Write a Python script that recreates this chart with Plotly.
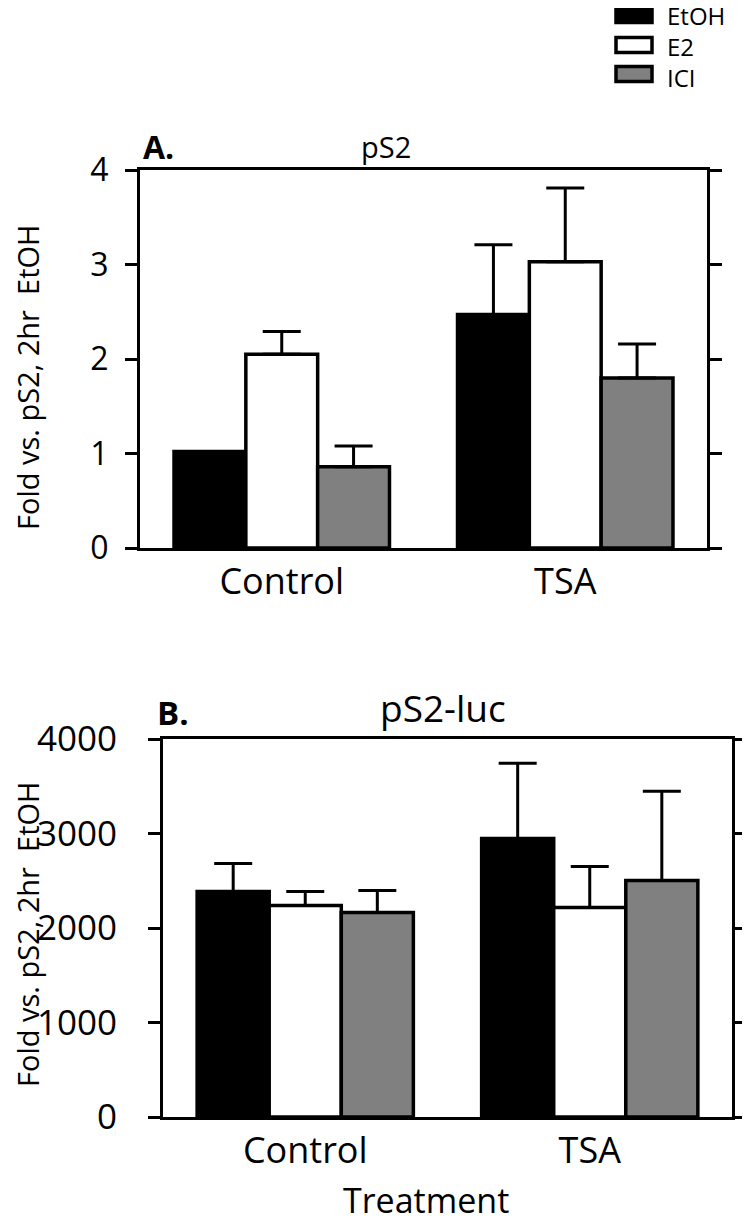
import plotly.graph_objects as go

# ---- data ----
categories = ["Control", "TSA"]
series_names = ["EtOH", "E2", "ICI"]
series_colors = ["#000000", "#ffffff", "#808080"]

# Panel A: pS2 (fold)
a_values = {"EtOH": [1.02, 2.47], "E2": [2.05, 3.03], "ICI": [0.86, 1.80]}
a_errors = {"EtOH": [0.0, 0.74], "E2": [0.24, 0.78], "ICI": [0.22, 0.36]}
a_ticks = [0, 1, 2, 3, 4]

# Panel B: pS2-luc
b_values = {"EtOH": [2386, 2948], "E2": [2238, 2216], "ICI": [2163, 2503]}
b_errors = {"EtOH": [297, 795], "E2": [148, 435], "ICI": [234, 944]}
b_ticks = [0, 1000, 2000, 3000, 4000]

# page body has an 8px margin: the figure starts 8px in from the window edge
OFF = 8
W, H = 750 - OFF, 1225 - OFF
FONT = "Open Sans"


def px(x):
    return (x - OFF) / W


def py(y):
    return 1 - (y - OFF) / H


fig = go.Figure()

for name, color in zip(series_names, series_colors):
    fig.add_trace(go.Bar(
        x=categories, y=a_values[name], name=name,
        marker=dict(color=color, line=dict(color="black", width=3.5)),
        error_y=dict(type="data", array=a_errors[name], arrayminus=[0, 0],
                     symmetric=False, color="black", thickness=3, width=19),
        xaxis="x", yaxis="y", showlegend=False,
    ))
    fig.add_trace(go.Bar(
        x=categories, y=b_values[name], name=name,
        marker=dict(color=color, line=dict(color="black", width=3.5)),
        error_y=dict(type="data", array=b_errors[name], arrayminus=[0, 0],
                     symmetric=False, color="black", thickness=3, width=19),
        xaxis="x2", yaxis="y2", showlegend=False,
    ))

common_x = dict(type="category", showline=True, mirror=True, linecolor="black",
                linewidth=3, ticks="", showgrid=False, zeroline=False,
                range=[-0.5, 1.5], automargin=False)
common_y = dict(showline=True, mirror="ticks", linecolor="black", linewidth=3,
                ticks="outside", ticklen=12, tickwidth=3, tickcolor="black",
                showgrid=False, zeroline=False, automargin=False)

fig.update_layout(
    template="none",
    width=W, height=H,
    margin=dict(l=0, r=0, t=0, b=0, autoexpand=False),
    paper_bgcolor="white", plot_bgcolor="white",
    barmode="group", bargap=0.24, bargroupgap=0,
    font=dict(family=FONT, color="black"),
    showlegend=False,
    xaxis=dict(common_x, domain=[px(140), px(707)], anchor="y",
               tickfont=dict(size=36), ticklabelstandoff=0),
    yaxis=dict(common_y, domain=[py(548), py(170)], anchor="x",
               range=[0, 4], tickvals=a_ticks,
               tickfont=dict(size=32), ticklabelstandoff=10),
    xaxis2=dict(common_x, domain=[px(163), px(732)], anchor="y2",
                tickfont=dict(size=36), ticklabelstandoff=0),
    yaxis2=dict(common_y, domain=[py(1117), py(739)], anchor="x2",
                range=[0, 4000], tickvals=b_ticks,
                tickfont=dict(size=35), ticklabelstandoff=24),
)

ann = []


def text(x, y, s, size, xanchor="center", angle=0, align="center"):
    ann.append(dict(x=px(x), y=py(y), xref="paper", yref="paper", text=s,
                    showarrow=False, xanchor=xanchor, yanchor="middle",
                    textangle=angle, align=align,
                    font=dict(size=size, family=FONT, color="black")))


text(141, 146, "<b>A.</b>", 32, xanchor="left")
text(386, 146, "pS2", 29)
text(155, 712, "<b>B.</b>", 33, xanchor="left")
text(443, 707, "pS2-luc", 37)
text(27, 378, "Fold vs. pS2, 2hr  EtOH", 29, angle=-90)
text(27, 935, "Fold vs. pS2, 2hr  EtOH", 29, angle=-90)
text(426, 1200, "Treatment", 34)

# legend (manual)
shapes = []
leg_rows = [15, 45, 74]
for color, yc in zip(series_colors, leg_rows):
    shapes.append(dict(type="rect", xref="paper", yref="paper",
                       x0=px(616), x1=px(652), y0=py(yc - 7.5), y1=py(yc + 7.5),
                       fillcolor=color, line=dict(color="black", width=3.5)))
text(665, 46, "<br>".join(series_names), 24, xanchor="left", align="left")

fig.update_layout(annotations=ann, shapes=shapes)
fig.write_html("out.html")
